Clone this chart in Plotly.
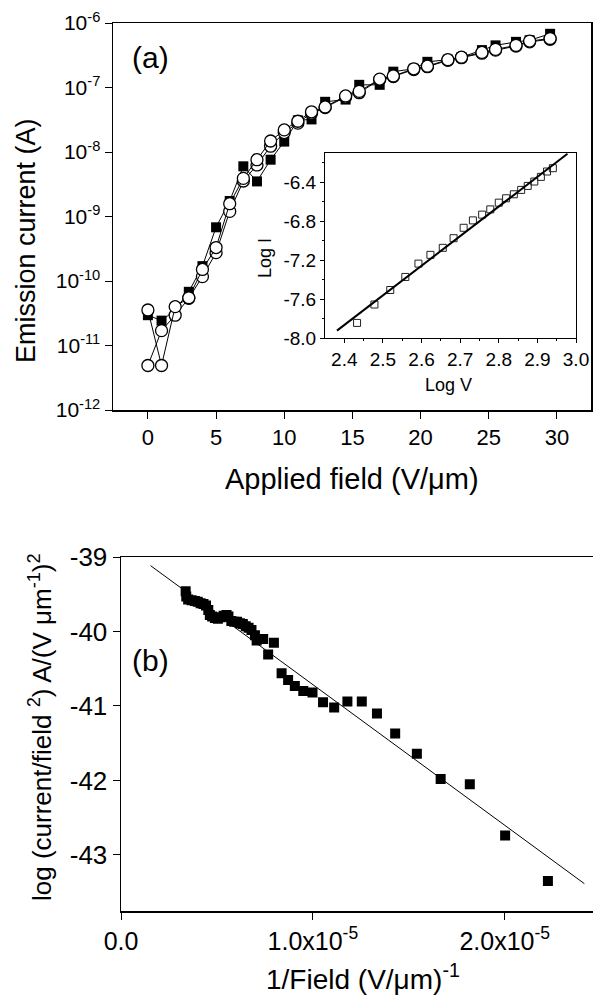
import plotly.graph_objects as go

W, H = 593, 997

# ---------------- Panel (a): emission current vs applied field ----------------
field_a = [0, 1, 2, 3, 4, 5, 6, 7, 8, 9, 10, 11, 12, 13, 14.5, 15.5, 17, 18,
           19.5, 20.5, 22, 23, 24.5, 25.5, 27, 28, 29.5]
current_sq = [2.95e-11, 2.43e-11, 3.55e-11, 6.8e-11, 1.7e-10, 6.8e-10, 1.74e-9,
              6.0e-9, 3.5e-9, 7.6e-9, 1.45e-8, 3.1e-8, 3.2e-8, 6.0e-8, 6.5e-8,
              1.1e-7, 1.1e-7, 1.76e-7, 1.95e-7, 2.5e-7, 2.7e-7, 2.95e-7, 3.8e-7,
              4.5e-7, 5.1e-7, 5.4e-7, 6.8e-7]
current_c1 = [3.55e-11, 4.9e-12, 4.0e-11, 5.5e-11, 1.51e-10, 3.3e-10, 1.58e-9,
              3.9e-9, 7.6e-9, 1.48e-8, 2.2e-8, 3.0e-8, 4.2e-8, 5.0e-8, 7.4e-8,
              8.7e-8, 1.35e-7, 1.51e-7, 1.95e-7, 2.14e-7, 2.7e-7, 2.95e-7,
              3.5e-7, 3.9e-7, 4.5e-7, 5.25e-7, 5.75e-7]
current_c2 = [4.9e-12, 1.7e-11, 2.95e-11, 5.4e-11, 1.17e-10, 2.75e-10, 1.2e-9,
              3.55e-9, 6.3e-9, 1.23e-8, 2.0e-8, 2.8e-8, 4.0e-8, 4.9e-8, 7.1e-8,
              8.3e-8, 1.32e-7, 1.48e-7, 1.9e-7, 2.1e-7, 2.63e-7, 2.9e-7,
              3.4e-7, 3.8e-7, 4.4e-7, 5.1e-7, 5.6e-7]
ytick_vals_a = [1e-12, 1e-11, 1e-10, 1e-9, 1e-8, 1e-7, 1e-6]
ytick_text_a = ["10<sup>-12</sup>", "10<sup>-11</sup>", "10<sup>-10</sup>",
                "10<sup>-9</sup>", "10<sup>-8</sup>", "10<sup>-7</sup>",
                "10<sup>-6</sup>"]
xtick_vals_a = [0, 5, 10, 15, 20, 25, 30]

# ---------------- Inset: Log I vs Log V ----------------
log_v = [2.433, 2.478, 2.519, 2.558, 2.592, 2.623, 2.655, 2.683, 2.709, 2.733,
         2.757, 2.778, 2.800, 2.819, 2.839, 2.858, 2.875, 2.892, 2.909, 2.925,
         2.940]
log_i = [-7.845, -7.656, -7.507, -7.373, -7.236, -7.146, -7.074, -6.975,
         -6.868, -6.792, -6.733, -6.679, -6.610, -6.565, -6.524, -6.479,
         -6.438, -6.393, -6.345, -6.290, -6.256]
inset_fit_x = [2.381, 2.978]
inset_fit_y = [-7.924, -6.108]

# ---------------- Panel (b): F-N plot ----------------
inv_field = [0.337, 0.340, 0.350, 0.368, 0.385, 0.400, 0.415, 0.430, 0.443,
             0.455, 0.463, 0.475, 0.490, 0.505, 0.520, 0.535, 0.550, 0.560,
             0.575, 0.590, 0.605, 0.620, 0.635, 0.650, 0.665, 0.680, 0.698,
             0.707, 0.741, 0.767, 0.797, 0.837, 0.871, 0.906, 0.950, 0.998,
             1.053, 1.111, 1.180, 1.255, 1.334, 1.429, 1.542, 1.666, 1.818,
             2.002, 2.225]  # x 1e-5
fn_val = [-39.46, -39.53, -39.57, -39.58, -39.59, -39.60, -39.62, -39.63,
          -39.65, -39.71, -39.78, -39.80, -39.82, -39.83, -39.81, -39.79,
          -39.78, -39.80, -39.86, -39.87, -39.87, -39.89, -39.90, -39.93,
          -39.95, -39.98, -40.05, -40.12, -40.10, -40.31, -40.15, -40.56,
          -40.65, -40.73, -40.80, -40.82, -40.95, -41.02, -40.94, -40.94,
          -41.10, -41.37, -41.64, -41.98, -42.05, -42.74, -43.35]
fn_fit_x = [0.154, 2.415]  # x 1e-5
fn_fit_y = [-39.116, -43.385]
xtick_vals_b = [0.0, 1.0e-5, 2.0e-5]
xtick_text_b = ["0.0", "1.0x10<sup>-5</sup>", "2.0x10<sup>-5</sup>"]
ytick_vals_b = [-39, -40, -41, -42, -43]

FONT = "Liberation Sans, Arial, sans-serif"


def px_x(p):
    return p / W


def px_y(p):
    return 1 - p / H


fig = go.Figure()

# panel (a) traces
fig.add_trace(go.Scatter(x=field_a, y=current_sq, mode="lines+markers",
                         line=dict(color="black", width=1),
                         marker=dict(symbol="square", size=10, color="black"),
                         xaxis="x", yaxis="y", showlegend=False))
fig.add_trace(go.Scatter(x=field_a, y=current_c2, mode="lines+markers",
                         line=dict(color="black", width=1),
                         marker=dict(symbol="circle", size=12, color="white",
                                     line=dict(color="black", width=1.3)),
                         xaxis="x", yaxis="y", showlegend=False))
fig.add_trace(go.Scatter(x=field_a, y=current_c1, mode="lines+markers",
                         line=dict(color="black", width=1),
                         marker=dict(symbol="circle", size=12, color="white",
                                     line=dict(color="black", width=1.3)),
                         xaxis="x", yaxis="y", showlegend=False))

# inset traces
fig.add_trace(go.Scatter(x=log_v, y=log_i, mode="markers",
                         marker=dict(symbol="square-open", size=7, color="#222",
                                     line=dict(width=1)),
                         xaxis="x2", yaxis="y2", showlegend=False))
fig.add_trace(go.Scatter(x=inset_fit_x, y=inset_fit_y, mode="lines",
                         line=dict(color="black", width=2),
                         xaxis="x2", yaxis="y2", showlegend=False))

# panel (b) traces
fig.add_trace(go.Scatter(x=[v * 1e-5 for v in inv_field], y=fn_val, mode="markers",
                         marker=dict(symbol="square", size=10, color="black"),
                         xaxis="x3", yaxis="y3", showlegend=False))
fig.add_trace(go.Scatter(x=[v * 1e-5 for v in fn_fit_x], y=fn_fit_y, mode="lines",
                         line=dict(color="black", width=1),
                         xaxis="x3", yaxis="y3", showlegend=False))

axis_common = dict(showgrid=False, zeroline=False, ticks="outside",
                   linecolor="black", tickcolor="black", showline=True,
                   automargin=False, ticklabeloverflow="allow")

fig.update_layout(
    template="none",
    width=W, height=H,
    margin=dict(l=0, r=0, t=0, b=0, pad=0, autoexpand=False),
    paper_bgcolor="white", plot_bgcolor="white",
    font=dict(family=FONT, color="black"),
    xaxis=dict(**axis_common, domain=[px_x(113), px_x(591)], range=[-2.56, 32.5],
               tickvals=xtick_vals_a, ticklen=7, linewidth=1.5, mirror=True,
               tickfont=dict(size=22), anchor="y"),
    yaxis=dict(**axis_common, type="log", domain=[px_y(410), px_y(23)],
               range=[-12, -6], tickvals=ytick_vals_a, ticktext=ytick_text_a,
               ticklen=7, linewidth=1.5, mirror=True, tickfont=dict(size=21),
               anchor="x"),
    xaxis2=dict(**axis_common, domain=[px_x(325), px_x(576)], range=[2.35, 3.0],
                tickvals=[2.4, 2.5, 2.6, 2.7, 2.8, 2.9, 3.0],
                ticktext=["2.4", "2.5", "2.6", "2.7", "2.8", "2.9", "3.0"],
                ticklen=4, linewidth=1, mirror=True, tickfont=dict(size=19),
                minor=dict(tickvals=[2.45, 2.55, 2.65, 2.75, 2.85, 2.95],
                           ticks="outside", ticklen=2, tickcolor="black"),
                anchor="y2"),
    yaxis2=dict(**axis_common, domain=[px_y(338), px_y(153)], range=[-8.0, -6.1],
                tickvals=[-8.0, -7.6, -7.2, -6.8, -6.4],
                ticktext=["-8.0", "-7.6", "-7.2", "-6.8", "-6.4"],
                ticklen=4, linewidth=1, mirror=True, tickfont=dict(size=19),
                minor=dict(tickvals=[-7.8, -7.4, -7.0, -6.6, -6.2],
                           ticks="outside", ticklen=2, tickcolor="black"),
                anchor="x2"),
    xaxis3=dict(**axis_common, domain=[px_x(121), 1.0], range=[0, 2.46e-5],
                tickvals=xtick_vals_b, ticktext=xtick_text_b, ticklen=7,
                linewidth=1.5, mirror=True, tickfont=dict(size=25), anchor="y3"),
    yaxis3=dict(**axis_common, domain=[px_y(911.3), px_y(557)],
                range=[-43.756, -39], tickvals=ytick_vals_b,
                ticktext=[str(v) for v in ytick_vals_b], ticklen=7,
                linewidth=1.5, tickfont=dict(size=26), anchor="x3"),
)

ann = []


def add_text(text, x, y, size, angle=0):
    ann.append(dict(text=text, x=px_x(x), y=px_y(y), xref="paper", yref="paper",
                    xanchor="center", yanchor="middle", showarrow=False,
                    textangle=angle, font=dict(size=size, family=FONT,
                                               color="black")))


add_text("(a)", 151, 57, 30)
add_text("Applied field (V/μm)", 352, 479, 29)
add_text("Emission current (A)", 26, 241, 27, -90)
add_text("Log V", 448, 385, 18)
add_text("Log I", 265, 258, 18, -90)
add_text("(b)", 151, 660, 30)
add_text("1/Field (V/μm)<sup>-1</sup>", 363, 977, 28)
add_text("log (current/field <sup>2</sup>) A/(V μm<sup>-1</sup>)<sup>2</sup>",
         40, 727, 26, -90)

fig.update_layout(annotations=ann)

fig.write_html(
    "out.html",
    config={"displayModeBar": False, "staticPlot": True},
    post_script="document.body.style.margin='0px';"
                "document.body.style.overflow='hidden';",
)
